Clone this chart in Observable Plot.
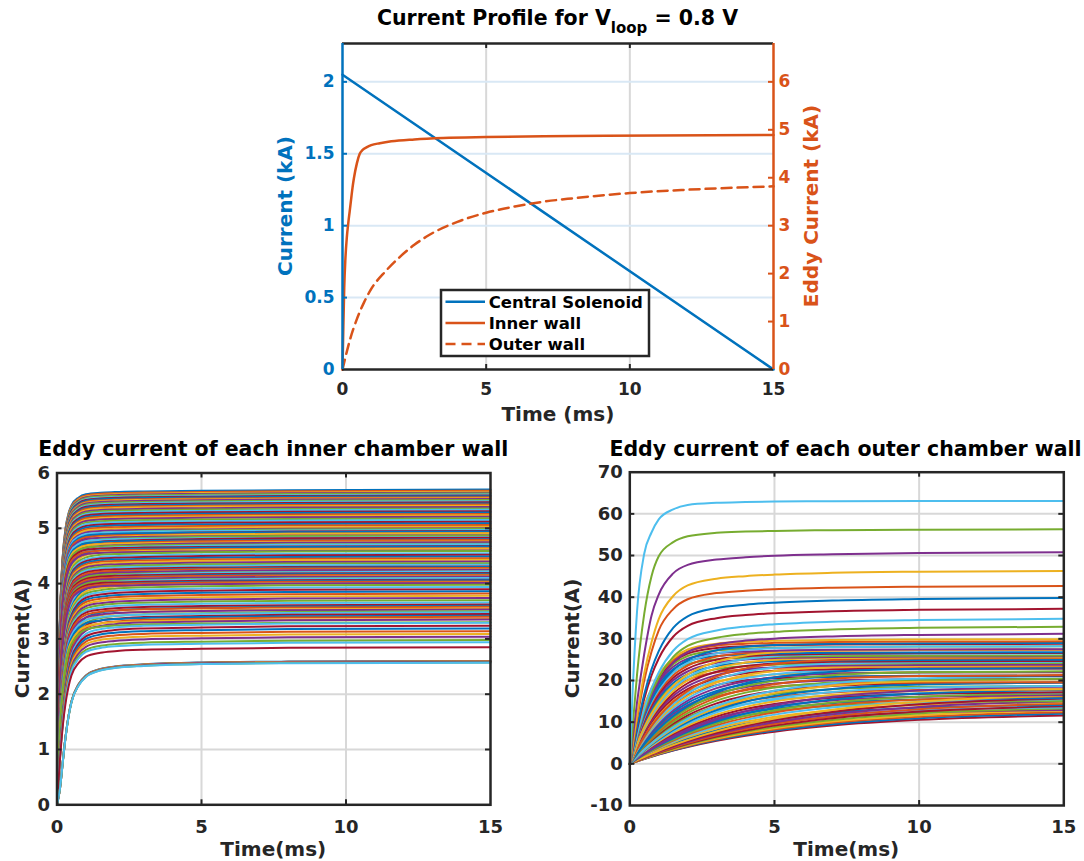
<!DOCTYPE html>
<html><head><meta charset="utf-8">
<script src="https://cdn.jsdelivr.net/npm/d3@7"></script>
<script src="https://cdn.jsdelivr.net/npm/@observablehq/plot@0.6"></script>
<style>
body{margin:0;background:#fff;}
#fig{position:relative;width:1084px;height:861px;overflow:hidden;font-family:"DejaVu Sans",sans-serif;}
#fig > svg{position:absolute;}
</style></head><body><div id="fig"></div>
<script>
// ---------------- DATA ----------------
const palette = ["#0072BD","#D95319","#EDB120","#7E2F8E","#77AC30","#4DBEEE","#A2142F"];
const timeTicks = [0, 5, 10, 15];

// Top chart
const csTicks = [0, 0.5, 1, 1.5, 2];
const eddyTicks = [0, 1, 2, 3, 4, 5, 6];
const csTime = [0, 15];
const csCurrentKA = [2.05, 0];
const innerWallTime = [0, 0.03, 0.06, 0.1, 0.15, 0.2, 0.25, 0.3, 0.35, 0.4, 0.5, 0.6, 0.7, 0.85, 1.0, 1.3, 1.7, 2.5, 3.5, 5, 8, 11, 15];
const innerWallKA   = [0, 0.9, 1.7, 2.3, 2.75, 3.05, 3.3, 3.55, 3.8, 4.0, 4.3, 4.5, 4.58, 4.64, 4.68, 4.72, 4.76, 4.80, 4.83, 4.85, 4.87, 4.88, 4.89];
const outerWallTime = [0, 0.1, 0.25, 0.5, 0.75, 1, 1.5, 2, 2.5, 3, 4, 5, 6, 7, 8, 9, 10, 12, 15];
const outerWallKA   = [0, 0.25, 0.6, 1.05, 1.4, 1.68, 2.05, 2.35, 2.6, 2.8, 3.08, 3.27, 3.4, 3.5, 3.57, 3.63, 3.68, 3.75, 3.82];
const legendLabels = ["Central Solenoid", "Inner wall", "Outer wall"];

// Bottom-left: inner chamber walls (normalized rise profiles, final currents in A)
const innerTicksY = [0, 1, 2, 3, 4, 5, 6];
const innerTime = [0, 0.05, 0.1, 0.15, 0.2, 0.3, 0.4, 0.5, 0.75, 1, 1.5, 2, 3, 5, 8, 15];
const innerProfileFast  = [0, 0.36, 0.58, 0.71, 0.79, 0.88, 0.925, 0.95, 0.975, 0.985, 0.99, 0.992, 0.994, 0.996, 0.998, 1];
const innerProfileUpper = [0, 0.30, 0.50, 0.63, 0.72, 0.83, 0.89, 0.925, 0.96, 0.975, 0.985, 0.988, 0.991, 0.995, 0.998, 1];
const innerProfileMid   = [0, 0.22, 0.40, 0.53, 0.63, 0.76, 0.84, 0.88, 0.935, 0.96, 0.975, 0.982, 0.988, 0.993, 0.997, 1];
const innerProfileLow   = [0, 0.14, 0.28, 0.40, 0.50, 0.65, 0.75, 0.82, 0.90, 0.94, 0.965, 0.975, 0.984, 0.99, 0.996, 1];
const innerProfileBase  = [0, 0.05, 0.11, 0.20, 0.30, 0.48, 0.62, 0.72, 0.84, 0.90, 0.945, 0.962, 0.977, 0.99, 0.996, 1];
const innerFinalsFast  = [5.70, 5.68, 5.66, 5.645, 5.63, 5.61, 5.595, 5.58, 5.56, 5.545, 5.53, 5.51, 5.49, 5.47, 5.45, 5.43, 5.41, 5.385, 5.36, 5.335, 5.31, 5.285, 5.26, 5.235, 5.21, 5.18, 5.15, 5.12, 5.09, 5.06, 5.03, 5.0, 4.97, 4.94, 4.91, 4.875, 4.84, 4.8, 4.76, 4.72, 4.68, 4.64, 4.6];
const innerFinalsUpper = [4.99, 4.95, 4.91, 4.87, 4.83, 4.79, 4.75, 4.71, 4.67, 4.63, 4.59, 4.55, 4.52, 4.49, 4.46, 4.43, 4.40, 4.37, 4.34, 4.31, 4.28, 4.25, 4.22, 4.19, 4.16, 4.13, 4.10, 4.07, 4.04, 4.01];
const innerFinalsMid   = [4.3, 4.26, 4.22, 4.18, 4.14, 4.1, 4.06, 4.02, 3.98, 3.94, 3.9, 3.86, 3.82, 3.78, 3.74, 3.7, 3.66, 3.62, 3.58, 3.53, 3.48, 3.42, 3.36, 3.3];
const innerFinalsLow   = [3.6, 3.55, 3.5, 3.45, 3.4, 3.35, 3.29, 3.24, 3.19, 3.14, 3.09, 3.04, 2.98, 2.94, 2.85];
const innerFinalsBase  = [2.6, 2.595, 2.59, 2.585, 2.575, 2.57];

// Bottom-right: outer chamber walls
const outerTicksY = [-10, 0, 10, 20, 30, 40, 50, 60, 70];
const outerTime = [0, 0.1, 0.25, 0.5, 0.75, 1, 1.5, 2, 3, 4, 5, 7, 10, 15];
const outerProfileA = [0, 0.28, 0.58, 0.80, 0.88, 0.93, 0.968, 0.985, 0.993, 0.996, 0.998, 0.999, 1, 1];
const outerProfileB = [0, 0.16, 0.38, 0.64, 0.80, 0.885, 0.945, 0.97, 0.985, 0.99, 0.993, 0.996, 0.998, 1];
const outerProfileC = [0, 0.12, 0.29, 0.52, 0.70, 0.80, 0.90, 0.94, 0.965, 0.976, 0.983, 0.99, 0.996, 1];
const outerProfileD = [0, 0.10, 0.25, 0.47, 0.63, 0.75, 0.87, 0.925, 0.96, 0.973, 0.981, 0.99, 0.996, 1];
const outerProfileE = [0, 0.09, 0.22, 0.42, 0.57, 0.68, 0.82, 0.89, 0.94, 0.96, 0.972, 0.985, 0.994, 1];
const outerProfileF = [0, 0.08, 0.20, 0.38, 0.52, 0.63, 0.78, 0.86, 0.92, 0.948, 0.963, 0.98, 0.992, 1];
const outerProfileG8 = [0, 0.118, 0.268, 0.465, 0.608, 0.713, 0.847, 0.918, 0.965, 0.98, 0.988, 0.995, 0.998, 1];
const outerProfileG7 = [0, 0.095, 0.221, 0.393, 0.528, 0.632, 0.777, 0.86, 0.94, 0.97, 0.984, 0.993, 0.998, 1];
const outerProfileG6 = [0, 0.074, 0.175, 0.319, 0.438, 0.537, 0.684, 0.783, 0.895, 0.95, 0.975, 0.992, 0.998, 1];
const outerProfileG5 = [0, 0.057, 0.137, 0.255, 0.357, 0.445, 0.586, 0.69, 0.826, 0.902, 0.944, 0.982, 0.996, 1];
const outerProfileG4 = [0, 0.044, 0.107, 0.203, 0.289, 0.365, 0.494, 0.597, 0.744, 0.838, 0.897, 0.958, 0.989, 1];
const outerProfileG3 = [0, 0.035, 0.086, 0.164, 0.236, 0.301, 0.417, 0.513, 0.661, 0.764, 0.836, 0.922, 0.976, 1];
const outerProfileG2 = [0, 0.028, 0.068, 0.132, 0.191, 0.246, 0.346, 0.433, 0.574, 0.681, 0.762, 0.871, 0.953, 1];
const outerProfileG1 = [0, 0.021, 0.051, 0.10, 0.147, 0.191, 0.273, 0.347, 0.475, 0.58, 0.665, 0.793, 0.91, 1];
const outerFinalsA = [63.1];
const outerFinalsB = [56.3];
const outerFinalsC = [50.8];
const outerFinalsD = [46.3, 42.7];
const outerFinalsE = [39.8, 37.2];
const outerFinalsF = [34.8, 32.9, 31.2];
const outerFinalsG8 = [26.0, 26.8, 27.5, 28.2, 28.8, 29.4, 29.9];
const outerFinalsG7 = [23.4, 24.2, 25.0, 25.8, 26.6, 27.4, 28.2, 29.0];
const outerFinalsG6 = [21.1, 22.0, 22.9, 23.8, 24.7, 25.6, 26.5, 27.4];
const outerFinalsG5 = [19.6, 20.4, 21.2, 22.0, 22.8, 23.6, 24.5, 25.4];
const outerFinalsG4 = [17.1, 17.9, 18.7, 19.5, 20.4, 21.3, 22.2, 23.1];
const outerFinalsG3 = [15.1, 15.8, 16.5, 17.2, 17.9, 18.7, 19.5, 20.3, 21.0];
const outerFinalsG2 = [12.9, 13.5, 14.1, 14.8, 15.5, 16.2, 16.9, 17.7, 18.5];
const outerFinalsG1 = [11.6, 12.0, 12.4, 12.8, 13.3, 13.8, 14.4, 15.0, 15.7, 16.4];

// ---------------- BUILD ----------------
const BLUE = palette[0], ORANGE = palette[1], INK = "#262626";
const GRID = "#d8d8d8", GRIDBLUE = "#d9e8f5";
const fig = document.getElementById("fig");
const fmt = d => String(+d.toFixed(4));

function curvesOf(groups) {
  const out = [];
  for (const g of groups) for (const f of g.finals) out.push({final: f, profile: g.profile});
  return out;
}
function rowsOf(curves, times, prefix) {
  const N = curves.length, rows = [];
  curves.forEach((c, i) => {
    const color = palette[(((i - (N - 1) + 5) % 7) + 7) % 7];
    times.forEach((t, k) => rows.push({t, v: c.final * c.profile[k], id: prefix + i, color}));
  });
  return rows;
}

const innerCurves = curvesOf([
  {profile: innerProfileFast, finals: innerFinalsFast},
  {profile: innerProfileUpper, finals: innerFinalsUpper},
  {profile: innerProfileMid, finals: innerFinalsMid},
  {profile: innerProfileLow, finals: innerFinalsLow}
]).sort((a, b) => b.final - a.final)
  .concat(curvesOf([{profile: innerProfileBase, finals: innerFinalsBase}]));
const innerRows = rowsOf(innerCurves, innerTime, "in");

const outerCurves = curvesOf([
  {profile: outerProfileA, finals: outerFinalsA},
  {profile: outerProfileB, finals: outerFinalsB},
  {profile: outerProfileC, finals: outerFinalsC},
  {profile: outerProfileD, finals: outerFinalsD},
  {profile: outerProfileE, finals: outerFinalsE},
  {profile: outerProfileF, finals: outerFinalsF},
  {profile: outerProfileG8, finals: outerFinalsG8},
  {profile: outerProfileG7, finals: outerFinalsG7},
  {profile: outerProfileG6, finals: outerFinalsG6},
  {profile: outerProfileG5, finals: outerFinalsG5},
  {profile: outerProfileG4, finals: outerFinalsG4},
  {profile: outerProfileG3, finals: outerFinalsG3},
  {profile: outerProfileG2, finals: outerFinalsG2},
  {profile: outerProfileG1, finals: outerFinalsG1}
]).sort((a, b) => a.final - b.final);
const outerRows = rowsOf(outerCurves, outerTime, "out");

function place(svg, left, top) {
  svg.style.left = left + "px";
  svg.style.top = top + "px";
  fig.appendChild(svg);
}
const baseStyle = (fs) => ({fontFamily: "'DejaVu Sans', sans-serif", fontWeight: "bold", fontSize: fs + "px", background: "transparent", color: INK, overflow: "visible"});

// ---- Top chart ----
const leftMax = 2.2667, rightMax = 6.8, kR = leftMax / rightMax;
{
  const W = 580, H = 380, mL = 82, mR = 67, mT = 13, mB = 41;
  const pw = W - mL - mR, ph = H - mT - mB;
  const cs = csTime.map((t, i) => ({t, v: csCurrentKA[i]}));
  const iw = innerWallTime.map((t, i) => ({t, v: innerWallKA[i] * kR}));
  const ow = outerWallTime.map((t, i) => ({t, v: outerWallKA[i] * kR}));
  const inner = timeTicks.filter(d => d > 0 && d < 15);
  const svg = Plot.plot({
    width: W, height: H, marginLeft: mL, marginRight: mR, marginTop: mT, marginBottom: mB,
    x: {domain: [0, 15], label: null}, y: {domain: [0, leftMax], label: null},
    style: baseStyle(17),
    marks: [
      Plot.gridX(inner, {stroke: GRID, strokeOpacity: 1, strokeWidth: 2}),
      Plot.gridY(csTicks.filter(d => d > 0), {stroke: GRIDBLUE, strokeOpacity: 1, strokeWidth: 2}),
      Plot.line(cs, {x: "t", y: "v", stroke: BLUE, strokeWidth: 2.5}),
      Plot.line(iw, {x: "t", y: "v", stroke: ORANGE, strokeWidth: 2.5, curve: "monotone-x"}),
      Plot.line(ow, {x: "t", y: "v", stroke: ORANGE, strokeWidth: 2.5, curve: "monotone-x", strokeDasharray: "10,6"}),
      Plot.tickX(inner, {x: d => d, stroke: INK, strokeWidth: 2, insetTop: ph - 5}),
      Plot.tickX(inner, {x: d => d, stroke: INK, strokeWidth: 2, insetBottom: ph - 5}),
      Plot.tickY(csTicks.filter(d => d > 0), {y: d => d, stroke: BLUE, strokeWidth: 2, insetRight: pw - 5}),
      Plot.tickY(eddyTicks.filter(d => d > 0).map(d => d * kR), {y: d => d, stroke: ORANGE, strokeWidth: 2, insetLeft: pw - 5}),
      Plot.ruleY([0], {stroke: INK, strokeWidth: 2.5}),
      Plot.ruleY([leftMax], {stroke: INK, strokeWidth: 2.5}),
      Plot.ruleX([0], {stroke: BLUE, strokeWidth: 2.5}),
      Plot.ruleX([15], {stroke: ORANGE, strokeWidth: 2.5}),
      Plot.axisX(timeTicks, {anchor: "bottom", tickSize: 0, tickPadding: 13, fill: INK, label: null, tickFormat: fmt}),
      Plot.axisY(csTicks, {anchor: "left", tickSize: 0, tickPadding: 8, fill: BLUE, label: null, tickFormat: fmt}),
      Plot.axisY(eddyTicks.map(d => d * kR), {anchor: "right", tickSize: 0, tickPadding: 5, fill: ORANGE, label: null,
        tickFormat: d => String(Math.round(d / kR))})
    ]
  });
  place(svg, 260, 30);
}

// ---- Bottom charts ----
function bottomChart(rows, yDomain, yTicks, W, H, mL, mR, mT, mB) {
  const pw = W - mL - mR, ph = H - mT - mB;
  const ix = timeTicks.filter(d => d > 0 && d < 15);
  const iy = yTicks.filter(d => d > yDomain[0] && d < yDomain[1]);
  return Plot.plot({
    width: W, height: H, marginLeft: mL, marginRight: mR, marginTop: mT, marginBottom: mB,
    x: {domain: [0, 15], label: null}, y: {domain: yDomain, label: null},
    color: {type: "identity"},
    style: baseStyle(18),
    marks: [
      Plot.gridX(ix, {stroke: GRID, strokeOpacity: 1, strokeWidth: 2}),
      Plot.gridY(iy, {stroke: GRID, strokeOpacity: 1, strokeWidth: 2}),
      Plot.line(rows, {x: "t", y: "v", z: "id", stroke: "color", strokeWidth: 2, curve: "monotone-x"}),
      Plot.tickX(ix, {x: d => d, stroke: INK, strokeWidth: 2, insetTop: ph - 5}),
      Plot.tickX(ix, {x: d => d, stroke: INK, strokeWidth: 2, insetBottom: ph - 5}),
      Plot.tickY(iy, {y: d => d, stroke: INK, strokeWidth: 2, insetRight: pw - 5}),
      Plot.tickY(iy, {y: d => d, stroke: INK, strokeWidth: 2, insetLeft: pw - 5}),
      Plot.frame({stroke: INK, strokeWidth: 2.5}),
      Plot.axisX(timeTicks, {anchor: "bottom", tickSize: 0, tickPadding: 15, fill: INK, label: null, tickFormat: fmt}),
      Plot.axisY(yTicks, {anchor: "left", tickSize: 0, tickPadding: 7, fill: INK, label: null, tickFormat: fmt})
    ]
  });
}
place(bottomChart(innerRows, [0, 6], innerTicksY, 540, 421, 56.5, 50, 32.5, 56.7), 0, 440);
place(bottomChart(outerRows, [-10, 70], outerTicksY, 524, 421, 69.3, 20.7, 31.7, 56), 560, 440);

// ---- Text overlay: titles, axis labels, legend ----
const ov = d3.select(fig).append("svg")
  .attr("width", 1084).attr("height", 861)
  .style("left", "0px").style("top", "0px").style("pointer-events", "none")
  .style("font-family", "'DejaVu Sans', sans-serif").style("font-weight", "bold");

const title = ov.append("text").attr("x", 557.5).attr("y", 25).attr("text-anchor", "middle")
  .attr("font-size", 20.5).attr("fill", "#000");
title.append("tspan").text("Current Profile for V");
title.append("tspan").attr("font-size", 15).attr("dy", 8).text("loop");
title.append("tspan").attr("dy", -8).text(" = 0.8 V");

function label(x, y, txt, opts = {}) {
  const t = ov.append("text").attr("text-anchor", "middle").attr("font-size", opts.size || 20)
    .attr("fill", opts.fill || INK).text(txt);
  if (opts.rotate) t.attr("transform", `translate(${x},${y}) rotate(-90)`);
  else t.attr("x", x).attr("y", y);
  return t;
}
label(557.9, 420.6, "Time (ms)");
label(292, 206, "Current (kA)", {rotate: true, fill: BLUE});
label(818, 206, "Eddy Current (kA)", {rotate: true, fill: ORANGE});

label(273.3, 456, "Eddy current of each inner chamber wall", {size: 20.5, fill: "#000"});
label(845.5, 456, "Eddy current of each outer chamber wall", {size: 20.5, fill: "#000"});
label(273.3, 855.5, "Time(ms)");
label(846.3, 855.5, "Time(ms)");
label(28.5, 638.4, "Current(A)", {rotate: true});
label(579, 638.4, "Current(A)", {rotate: true});

// Legend
ov.append("rect").attr("x", 441).attr("y", 290).attr("width", 208).attr("height", 66)
  .attr("fill", "#fff").attr("stroke", INK).attr("stroke-width", 2.5);
const legendStyles = [
  {stroke: BLUE, dash: null, y: 301.7},
  {stroke: ORANGE, dash: null, y: 323},
  {stroke: ORANGE, dash: "10,6", y: 344}
];
legendLabels.forEach((txt, i) => {
  const s = legendStyles[i];
  const ln = ov.append("line").attr("x1", 445.5).attr("x2", 485).attr("y1", s.y).attr("y2", s.y)
    .attr("stroke", s.stroke).attr("stroke-width", 2.5);
  if (s.dash) ln.attr("stroke-dasharray", s.dash);
  ov.append("text").attr("x", 488.7).attr("y", s.y + 6).attr("font-size", 16.5).attr("fill", "#000").text(txt);
});
</script></body></html>
